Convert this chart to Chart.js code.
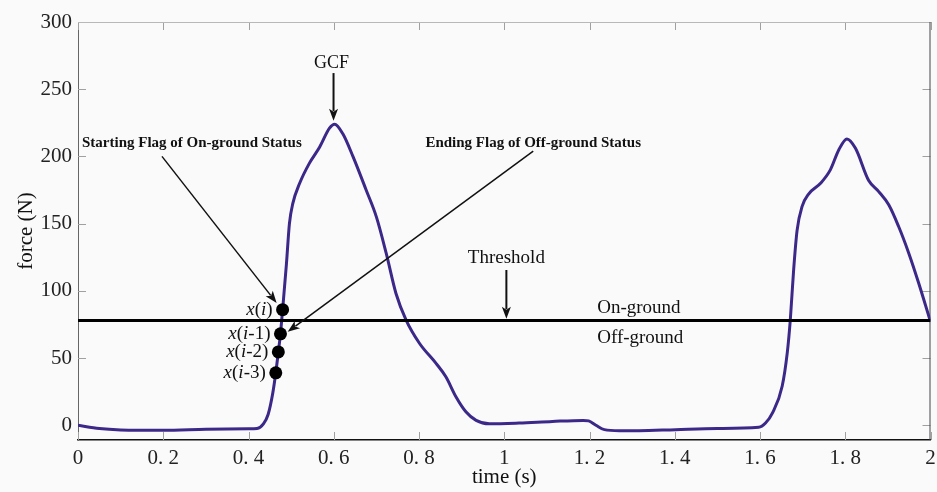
<!DOCTYPE html>
<html>
<head>
<meta charset="utf-8">
<title>GCF force</title>
<script src="https://cdn.jsdelivr.net/npm/chart.js@4.4.0/dist/chart.umd.min.js"></script>
<style>
    html, body { margin: 0; padding: 0; background: #fbfafa; }
    #wrap { width: 937px; height: 492px; }
</style>
</head>
<body>
<div id="wrap"><canvas id="forceChart" width="937" height="492"></canvas></div>
<script>
// 数据：时间 (s) 与力 (N)
const timeValues = [0, 0.05, 0.1, 0.2, 0.3, 0.4, 0.42, 0.435, 0.446, 0.457, 0.464, 0.470, 0.475, 0.480,
    0.489, 0.496, 0.504, 0.52, 0.543, 0.567, 0.59, 0.602, 0.621, 0.645, 0.676, 0.70, 0.723, 0.746,
    0.770, 0.801, 0.84, 0.863, 0.887, 0.91, 0.934, 0.965, 1.035, 1.113, 1.185, 1.198, 1.215, 1.235,
    1.27, 1.316, 1.402, 1.5, 1.597, 1.613, 1.629, 1.652, 1.664, 1.671, 1.679, 1.687, 1.699, 1.714,
    1.742, 1.765, 1.785, 1.804, 1.824, 1.855, 1.878, 1.902, 1.925, 1.949, 1.972, 2.0];
const forceValues = [0, -2.5, -3.5, -3.8, -3, -2.6, -2.4, 1, 8, 24, 39, 54.5, 68, 86,
    120, 150, 165, 180, 195, 207, 221, 224, 217, 200, 175, 155, 128, 98,
    78, 61, 46, 36, 21, 10, 3.6, 1, 1.6, 2.8, 3.6, 3.2, 0, -3.3,
    -4.1, -4.1, -3.3, -2.5, -1.6, 1.6, 9, 29, 54, 78, 116, 145, 163, 172,
    180, 190, 205, 213, 206, 182, 174, 164, 148, 128, 106, 77];

const thresholdForce = 78;

const flagLabels = ['x(i)', 'x(i-1)', 'x(i-2)', 'x(i-3)'];
const flagTimes = [0.480, 0.475, 0.470, 0.464];
const flagForces = [86, 68, 54.5, 39];

const xTickValues = [0, 0.2, 0.4, 0.6, 0.8, 1, 1.2, 1.4, 1.6, 1.8, 2];
const xTickLabels = ['0', '0. 2', '0. 4', '0. 6', '0. 8', '1', '1. 2', '1. 4', '1. 6', '1. 8', '2'];
const yTickValues = [0, 50, 100, 150, 200, 250, 300];

const SERIF = '"Liberation Serif", "Times New Roman", serif';

// 注释（数据坐标）
const notes = [
    { kind: 'text', text: 'GCF', t: 0.595, v: 269, size: 18, align: 'center' },
    { kind: 'arrow', from: [0.5995, 262], to: [0.5995, 226.5], width: 2 },
    { kind: 'text', text: 'Starting Flag of On-ground Status', t: 0.0094, v: 210, size: 15, bold: true, align: 'left' },
    { kind: 'arrow', from: [0.197, 200], to: [0.466, 91], width: 1.5 },
    { kind: 'text', text: 'Ending Flag of Off-ground Status', t: 0.815, v: 210, size: 15, bold: true, align: 'left' },
    { kind: 'arrow', from: [1.068, 204], to: [0.492, 69.5], width: 1.5 },
    { kind: 'text', text: 'Threshold', t: 1.005, v: 124.4, size: 19, align: 'center' },
    { kind: 'arrow', from: [1.005, 115.5], to: [1.005, 79.2], width: 2 },
    { kind: 'text', text: 'On-ground', t: 1.218, v: 87.3, size: 19, align: 'left' },
    { kind: 'text', text: 'Off-ground', t: 1.218, v: 65, size: 19, align: 'left' }
];

function drawArrow(ctx, x1, y1, x2, y2, width) {
    const ang = Math.atan2(y2 - y1, x2 - x1);
    const len = 12, half = 4.5;
    ctx.lineWidth = width;
    ctx.beginPath();
    ctx.moveTo(x1, y1);
    ctx.lineTo(x2 - Math.cos(ang) * len * 0.8, y2 - Math.sin(ang) * len * 0.8);
    ctx.stroke();
    ctx.beginPath();
    ctx.moveTo(x2, y2);
    ctx.lineTo(x2 - Math.cos(ang) * len - Math.sin(ang) * half, y2 - Math.sin(ang) * len + Math.cos(ang) * half);
    ctx.lineTo(x2 - Math.cos(ang) * len * 0.75, y2 - Math.sin(ang) * len * 0.75);
    ctx.lineTo(x2 - Math.cos(ang) * len + Math.sin(ang) * half, y2 - Math.sin(ang) * len - Math.cos(ang) * half);
    ctx.closePath();
    ctx.fill();
}

// 边框与向内的刻度
const frameTicks = {
    id: 'frameTicks',
    beforeDatasetsDraw(chart) {
        const { ctx, chartArea: a, scales: { x, y } } = chart;
        ctx.save();
        ctx.lineWidth = 1;
        ctx.strokeStyle = '#a0a0a0';
        ctx.beginPath();
        x.ticks.forEach(t => {
            const px = Math.round(x.getPixelForValue(t.value)) + 0.5;
            ctx.moveTo(px, a.bottom); ctx.lineTo(px, a.bottom - 8);
            ctx.moveTo(px, a.top); ctx.lineTo(px, a.top + 8);
        });
        y.ticks.forEach(t => {
            const py = Math.round(y.getPixelForValue(t.value)) + 0.5;
            ctx.moveTo(a.left, py); ctx.lineTo(a.left + 8, py);
            ctx.moveTo(a.right, py); ctx.lineTo(a.right - 8, py);
        });
        ctx.stroke();
        ctx.strokeStyle = '#b8b8b8';
        ctx.beginPath();
        ctx.moveTo(a.left, a.top + 0.5); ctx.lineTo(a.right, a.top + 0.5);
        ctx.stroke();
        ctx.strokeStyle = '#444';
        ctx.beginPath();
        ctx.moveTo(a.right - 0.5, a.top); ctx.lineTo(a.right - 0.5, a.bottom);
        ctx.stroke();
        ctx.restore();
    }
};

// 文字注释与箭头
const annotations = {
    id: 'annotations',
    afterDatasetsDraw(chart) {
        const { ctx, scales: { x, y } } = chart;
        ctx.save();
        ctx.fillStyle = '#111';
        ctx.strokeStyle = '#111';
        notes.forEach(n => {
            if (n.kind === 'text') {
                ctx.font = (n.bold ? 'bold ' : '') + n.size + 'px ' + SERIF;
                ctx.textAlign = n.align;
                ctx.textBaseline = 'middle';
                ctx.fillText(n.text, x.getPixelForValue(n.t), y.getPixelForValue(n.v));
            } else {
                drawArrow(ctx, x.getPixelForValue(n.from[0]), y.getPixelForValue(n.from[1]),
                    x.getPixelForValue(n.to[0]), y.getPixelForValue(n.to[1]), n.width);
            }
        });

        // x(i) 标签：字母斜体，其余正体
        ctx.textAlign = 'left';
        ctx.textBaseline = 'middle';
        flagLabels.forEach((label, i) => {
            const parts = label.split('').map(ch => ({
                ch: ch,
                font: (/[a-z]/.test(ch) ? 'italic ' : '') + '19px ' + SERIF
            }));
            let total = 0;
            parts.forEach(p => { ctx.font = p.font; p.w = ctx.measureText(p.ch).width; total += p.w; });
            let cx = x.getPixelForValue(flagTimes[i]) - 10 - total;
            const cy = y.getPixelForValue(flagForces[i]);
            parts.forEach(p => { ctx.font = p.font; ctx.fillText(p.ch, cx, cy); cx += p.w; });
        });
        ctx.restore();
    }
};

const tickFont = { family: SERIF, size: 21 };

new Chart(document.getElementById('forceChart'), {
    type: 'line',
    data: {
        datasets: [
            {
                label: 'flags',
                type: 'scatter',
                data: flagTimes.map((t, i) => ({ x: t, y: flagForces[i] })),
                pointRadius: 6.5,
                pointBackgroundColor: '#000',
                pointBorderWidth: 0,
                order: 0
            },
            {
                label: 'threshold',
                data: [{ x: 0, y: thresholdForce }, { x: 2, y: thresholdForce }],
                borderColor: '#000',
                borderWidth: 3,
                pointRadius: 0,
                order: 1
            },
            {
                label: 'force',
                data: timeValues.map((t, i) => ({ x: t, y: forceValues[i] })),
                borderColor: '#3b2888',
                borderWidth: 3,
                pointRadius: 0,
                cubicInterpolationMode: 'monotone',
                order: 2
            }
        ]
    },
    options: {
        responsive: false,
        animation: false,
        layout: { padding: { top: 22, right: 4, left: 0, bottom: 0 } },
        plugins: {
            legend: { display: false },
            tooltip: { enabled: false }
        },
        scales: {
            x: {
                type: 'linear',
                min: 0,
                max: 2,
                afterBuildTicks: s => { s.ticks = xTickValues.map(v => ({ value: v })); },
                afterFit: s => { s.height = 52; s.paddingLeft = 0; s.paddingRight = 0; },
                ticks: {
                    callback: (v, i) => xTickLabels[i],
                    font: tickFont,
                    color: '#222',
                    padding: 6,
                    maxRotation: 0,
                    autoSkip: false
                },
                grid: { display: false, drawTicks: false },
                border: { color: '#111', width: 1.5 },
                title: {
                    display: true,
                    text: 'time (s)',
                    font: tickFont,
                    color: '#111',
                    padding: { top: 0, bottom: 2 }
                }
            },
            y: {
                type: 'linear',
                min: -11,
                max: 300,
                afterBuildTicks: s => { s.ticks = yTickValues.map(v => ({ value: v })); },
                afterFit: s => { s.width = 78; },
                ticks: {
                    callback: v => String(v),
                    font: tickFont,
                    color: '#222',
                    padding: 6
                },
                grid: { display: false, drawTicks: false },
                border: { color: '#666', width: 1 },
                title: {
                    display: true,
                    text: 'force (N)',
                    font: tickFont,
                    color: '#111',
                    padding: { top: 14, bottom: 0 }
                }
            }
        }
    },
    plugins: [frameTicks, annotations]
});
</script>
</body>
</html>
